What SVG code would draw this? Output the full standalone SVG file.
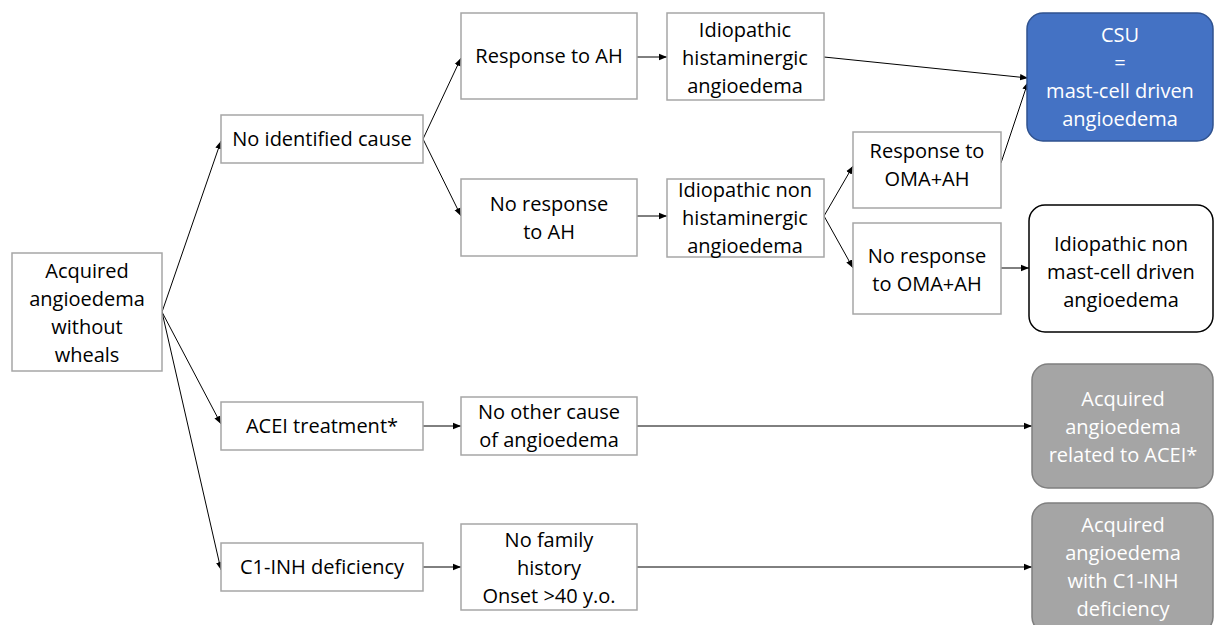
<svg xmlns="http://www.w3.org/2000/svg" width="1214" height="625" viewBox="0 0 1214 625">
<defs>
<style>
.box{fill:#fff;stroke:#a6a6a6;stroke-width:1.5}
.t{font-family:"Open Sans","Noto Sans",sans-serif;font-size:20px;fill:#000;text-anchor:middle}
.w{fill:#fff}
.c{stroke:#000;stroke-width:1;fill:none;marker-end:url(#ah)}
</style>
<marker id="ah" viewBox="0 0 10 10" refX="10" refY="5" markerWidth="8" markerHeight="8" markerUnits="userSpaceOnUse" orient="auto">
<path d="M0,1 L10,5 L0,9 z" fill="#000"/>
</marker>
</defs>
<rect width="1214" height="625" fill="#fff"/>
<g id="connectors">
<line class="c" x1="162" y1="312" x2="221" y2="141"/>
<line class="c" x1="162" y1="312" x2="221" y2="424"/>
<line class="c" x1="162" y1="312" x2="221" y2="570"/>
<line class="c" x1="423" y1="139" x2="461" y2="58"/>
<line class="c" x1="423" y1="139" x2="461" y2="216"/>
<line class="c" x1="637" y1="57" x2="667" y2="57"/>
<line class="c" x1="824" y1="57" x2="1028" y2="78"/>
<line class="c" x1="637" y1="216" x2="667" y2="216"/>
<line class="c" x1="824" y1="216" x2="853" y2="166"/>
<line class="c" x1="824" y1="216" x2="853" y2="268"/>
<line class="c" x1="1001" y1="163" x2="1028" y2="82"/>
<line class="c" x1="1001" y1="268" x2="1029" y2="268"/>
<line class="c" x1="423" y1="426" x2="461" y2="426"/>
<line class="c" x1="423" y1="567" x2="461" y2="567"/>
<line class="c" x1="637" y1="426" x2="1032" y2="426"/>
<line class="c" x1="637" y1="567" x2="1032" y2="567"/>
</g>
<g id="n-acquired">
<rect class="box" x="12" y="253" width="150" height="118"/>
<text class="t" x="87" y="278">Acquired</text>
<text class="t" x="87" y="306">angioedema</text>
<text class="t" x="87" y="334">without</text>
<text class="t" x="87" y="362">wheals</text>
</g>
<g id="n-noid">
<rect class="box" x="221" y="115" width="202" height="48"/>
<text class="t" x="322" y="146">No identified cause</text>
</g>
<g id="n-respah">
<rect class="box" x="461" y="13" width="176" height="86"/>
<text class="t" x="549" y="63">Response to AH</text>
</g>
<g id="n-idhist">
<rect class="box" x="667" y="13" width="157" height="87"/>
<text class="t" x="745" y="37">Idiopathic</text>
<text class="t" x="745" y="65">histaminergic</text>
<text class="t" x="745" y="93">angioedema</text>
</g>
<g id="n-csu">
<rect x="1027" y="13" width="186" height="128" rx="16" fill="#4472c4" stroke="#2f528f" stroke-width="1.5"/>
<text class="t w" x="1120" y="42">CSU</text>
<text class="t w" x="1120" y="70">=</text>
<text class="t w" x="1120" y="98">mast-cell driven</text>
<text class="t w" x="1120" y="126">angioedema</text>
</g>
<g id="n-norespah">
<rect class="box" x="461" y="179" width="176" height="77"/>
<text class="t" x="549" y="211">No response</text>
<text class="t" x="549" y="239">to AH</text>
</g>
<g id="n-idnonhist">
<rect class="box" x="667" y="179" width="157" height="78"/>
<text class="t" x="745" y="197">Idiopathic non</text>
<text class="t" x="745" y="225">histaminergic</text>
<text class="t" x="745" y="253">angioedema</text>
</g>
<g id="n-respoma">
<rect class="box" x="853" y="132" width="148" height="76"/>
<text class="t" x="927" y="158">Response to</text>
<text class="t" x="927" y="186">OMA+AH</text>
</g>
<g id="n-norespoma">
<rect class="box" x="853" y="223" width="148" height="91"/>
<text class="t" x="927" y="263">No response</text>
<text class="t" x="927" y="291">to OMA+AH</text>
</g>
<g id="n-idnonmast">
<rect x="1029" y="205" width="184" height="127" rx="16" fill="#fff" stroke="#000" stroke-width="1.5"/>
<text class="t" x="1121" y="251">Idiopathic non</text>
<text class="t" x="1121" y="279">mast-cell driven</text>
<text class="t" x="1121" y="307">angioedema</text>
</g>
<g id="n-acei">
<rect class="box" x="221" y="402" width="202" height="48"/>
<text class="t" x="322" y="433">ACEI treatment*</text>
</g>
<g id="n-noother">
<rect class="box" x="461" y="397" width="176" height="58"/>
<text class="t" x="549" y="419">No other cause</text>
<text class="t" x="549" y="447">of angioedema</text>
</g>
<g id="n-acqacei">
<rect x="1032" y="364" width="181" height="124" rx="16" fill="#a5a5a5" stroke="#7f7f7f" stroke-width="1.5"/>
<text class="t w" x="1123" y="406">Acquired</text>
<text class="t w" x="1123" y="434">angioedema</text>
<text class="t w" x="1123" y="462">related to ACEI*</text>
</g>
<g id="n-c1inh">
<rect class="box" x="221" y="543" width="202" height="48"/>
<text class="t" x="322" y="574">C1-INH deficiency</text>
</g>
<g id="n-nofamily">
<rect class="box" x="461" y="524" width="176" height="86"/>
<text class="t" x="549" y="547">No family</text>
<text class="t" x="549" y="575">history</text>
<text class="t" x="549" y="603">Onset &gt;40 y.o.</text>
</g>
<g id="n-acqc1">
<rect x="1032" y="503" width="181" height="130" rx="16" fill="#a5a5a5" stroke="#7f7f7f" stroke-width="1.5"/>
<text class="t w" x="1123" y="532">Acquired</text>
<text class="t w" x="1123" y="560">angioedema</text>
<text class="t w" x="1123" y="588">with C1-INH</text>
<text class="t w" x="1123" y="616">deficiency</text>
</g>
</svg>
